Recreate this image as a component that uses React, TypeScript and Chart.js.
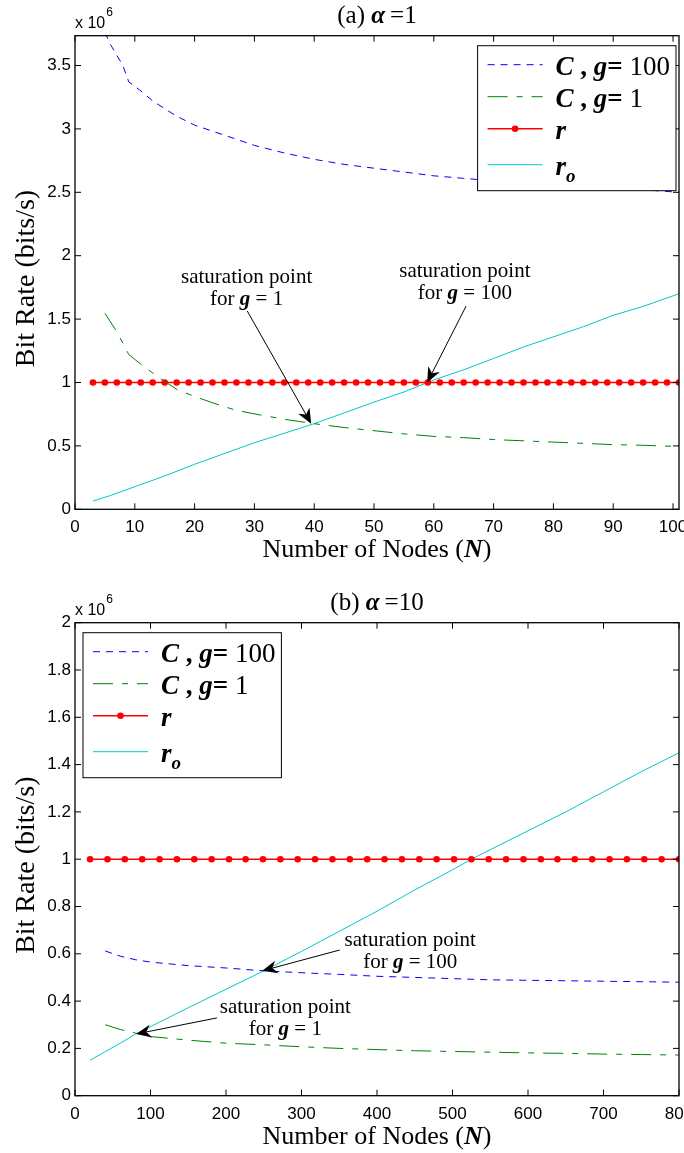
import React, { useEffect, useRef } from 'react';
import { Chart, registerables } from 'chart.js';
Chart.register(...registerables);

// ---------------- Panel (a): alpha = 1 (values in units of 10^6 bits/s) ----------------
const A_C100_N = [5, 6, 8, 9, 11, 13, 15, 17, 20, 25, 30, 35, 40, 45, 50, 55, 60, 65, 70, 75, 80, 85, 90, 95, 101];
const A_C100 = [3.76, 3.66, 3.5, 3.37, 3.3, 3.22, 3.16, 3.1, 3.03, 2.95, 2.87, 2.81, 2.76, 2.72, 2.69, 2.66, 2.63, 2.61, 2.59, 2.575, 2.56, 2.55, 2.535, 2.52, 2.5];
const A_C1_N = [5, 7, 9, 11, 14, 17, 20, 23, 27, 31, 35, 40, 45, 50, 55, 60, 65, 70, 75, 80, 85, 90, 95, 101];
const A_C1 = [1.546, 1.4, 1.22, 1.145, 1.04, 0.946, 0.89, 0.84, 0.78, 0.744, 0.71, 0.675, 0.645, 0.62, 0.595, 0.575, 0.565, 0.55, 0.54, 0.53, 0.52, 0.51, 0.505, 0.495];
const A_R_N = [3, 5, 7, 9, 11, 13, 15, 17, 19, 21, 23, 25, 27, 29, 31, 33, 35, 37, 39, 41, 43, 45, 47, 49, 51, 53, 55, 57, 59, 61, 63, 65, 67, 69, 71, 73, 75, 77, 79, 81, 83, 85, 87, 89, 91, 93, 95, 97, 99, 101];
const A_R = [1, 1, 1, 1, 1, 1, 1, 1, 1, 1, 1, 1, 1, 1, 1, 1, 1, 1, 1, 1, 1, 1, 1, 1, 1, 1, 1, 1, 1, 1, 1, 1, 1, 1, 1, 1, 1, 1, 1, 1, 1, 1, 1, 1, 1, 1, 1, 1, 1, 1];
const A_RO_N = [3, 6, 10, 15, 20, 25, 30, 35, 40, 45, 50, 55, 60, 65, 70, 75, 80, 85, 90, 95, 101];
const A_RO = [0.065, 0.11, 0.178, 0.263, 0.355, 0.44, 0.525, 0.6, 0.675, 0.76, 0.845, 0.925, 1.02, 1.1, 1.19, 1.28, 1.36, 1.44, 1.53, 1.6, 1.7];
const A_X_TICKS = [0, 10, 20, 30, 40, 50, 60, 70, 80, 90, 100];
const A_X_LABELS = ['0', '10', '20', '30', '40', '50', '60', '70', '80', '90', '100'];
const A_Y_TICKS = [0, 0.5, 1, 1.5, 2, 2.5, 3, 3.5];
const A_Y_LABELS = ['0', '0.5', '1', '1.5', '2', '2.5', '3', '3.5'];

// ---------------- Panel (b): alpha = 10 ----------------
const B_C100_N = [40, 60, 80, 100, 150, 200, 250, 300, 350, 400, 450, 500, 550, 600, 650, 700, 750, 800];
const B_C100 = [0.612, 0.59, 0.575, 0.565, 0.55, 0.54, 0.528, 0.52, 0.513, 0.505, 0.5, 0.495, 0.49, 0.488, 0.486, 0.484, 0.482, 0.48];
const B_C1_N = [40, 60, 80, 100, 150, 200, 250, 300, 350, 400, 450, 500, 550, 600, 650, 700, 750, 800];
const B_C1 = [0.3, 0.28, 0.265, 0.25, 0.235, 0.222, 0.215, 0.207, 0.2, 0.195, 0.19, 0.187, 0.184, 0.181, 0.179, 0.176, 0.174, 0.172];
const B_R_N = [20, 43, 66, 89, 112, 135, 158, 181, 204, 226, 249, 272, 295, 318, 341, 364, 387, 410, 433, 456, 479, 502, 525, 548, 571, 594, 617, 639, 662, 685, 708, 731, 754, 777, 800];
const B_R = [1, 1, 1, 1, 1, 1, 1, 1, 1, 1, 1, 1, 1, 1, 1, 1, 1, 1, 1, 1, 1, 1, 1, 1, 1, 1, 1, 1, 1, 1, 1, 1, 1, 1, 1];
const B_RO_N = [20, 40, 60, 80, 100, 150, 200, 250, 300, 350, 400, 450, 500, 525, 550, 600, 650, 700, 750, 800];
const B_RO = [0.15, 0.186, 0.222, 0.26, 0.292, 0.372, 0.45, 0.528, 0.61, 0.695, 0.78, 0.87, 0.955, 1.0, 1.04, 1.12, 1.2, 1.285, 1.37, 1.45];
const B_X_TICKS = [0, 100, 200, 300, 400, 500, 600, 700, 800];
const B_X_LABELS = ['0', '100', '200', '300', '400', '500', '600', '700', '800'];
const B_Y_TICKS = [0, 0.2, 0.4, 0.6, 0.8, 1, 1.2, 1.4, 1.6, 1.8, 2];
const B_Y_LABELS = ['0', '0.2', '0.4', '0.6', '0.8', '1', '1.2', '1.4', '1.6', '1.8', '2'];

// ---------------- styling ----------------
const SERIF = "'Liberation Serif', 'Times New Roman', serif";
const SANS = "'Liberation Sans', Arial, Helvetica, sans-serif";
const BLUE = '#0000ff';
const GREEN = '#008000';
const RED = '#ff0000';
const CYAN = '#00c8c8';

type Seg = { t: string; s?: 'r' | 'b' | 'bi' | 'i'; size?: number; dy?: number };

function segFont(seg: Seg, size: number) {
  const st = seg.s === 'bi' ? 'italic bold ' : seg.s === 'b' ? 'bold ' : seg.s === 'i' ? 'italic ' : '';
  return `${st}${seg.size ?? size}px ${SERIF}`;
}
function richWidth(ctx: CanvasRenderingContext2D, segs: Seg[], size: number) {
  let w = 0;
  for (const s of segs) {
    ctx.font = segFont(s, size);
    w += ctx.measureText(s.t).width;
  }
  return w;
}
function drawRich(ctx: CanvasRenderingContext2D, segs: Seg[], x: number, y: number, size: number, align: 'left' | 'center') {
  let cx = align === 'center' ? x - richWidth(ctx, segs, size) / 2 : x;
  ctx.textAlign = 'left';
  ctx.textBaseline = 'alphabetic';
  for (const s of segs) {
    ctx.font = segFont(s, size);
    ctx.fillText(s.t, cx, y + (s.dy ?? 0));
    cx += ctx.measureText(s.t).width;
  }
}

function drawArrow(ctx: CanvasRenderingContext2D, x1: number, y1: number, x2: number, y2: number) {
  const ang = Math.atan2(y2 - y1, x2 - x1);
  const ux = Math.cos(ang), uy = Math.sin(ang);
  const nx = -uy, ny = ux;
  const L = 15, W = 6.5, notch = 4.5;
  ctx.beginPath();
  ctx.moveTo(x1, y1);
  ctx.lineTo(x2 - ux * (L - notch), y2 - uy * (L - notch));
  ctx.lineWidth = 1;
  ctx.strokeStyle = '#000';
  ctx.stroke();
  ctx.beginPath();
  ctx.moveTo(x2, y2);
  ctx.lineTo(x2 - ux * L + nx * W, y2 - uy * L + ny * W);
  ctx.lineTo(x2 - ux * (L - notch), y2 - uy * (L - notch));
  ctx.lineTo(x2 - ux * L - nx * W, y2 - uy * L - ny * W);
  ctx.closePath();
  ctx.fillStyle = '#000';
  ctx.fill();
}

const legendSegs = (g: string): Seg[] => [
  { t: 'C', s: 'bi' },
  { t: ' , ', s: 'b' },
  { t: 'g', s: 'bi' },
  { t: '= ', s: 'b' },
  { t: g },
];
const LEGEND_TEXT: Seg[][] = [
  legendSegs('100'),
  legendSegs('1'),
  [{ t: 'r', s: 'bi' }],
  [{ t: 'r', s: 'bi' }, { t: 'o', s: 'bi', size: 19, dy: 7 }],
];

type Ann = { g: string; textN: number; textV: number; tail: [number, number]; tip: [number, number] };

const PANEL_A = {
  letter: 'a', alpha: '1', top: 0, height: 587, plotTop: 35.7, plotBottom: 509.3,
  xMax: 101, yMax: 3.735,
  xTicks: A_X_TICKS, xLabels: A_X_LABELS, yTicks: A_Y_TICKS, yLabels: A_Y_LABELS,
  series: [
    { n: A_C100_N, v: A_C100 },
    { n: A_C1_N, v: A_C1 },
    { n: A_R_N, v: A_R },
    { n: A_RO_N, v: A_RO },
  ],
  legendSide: 'right',
  anns: [
    { g: '1', textN: 28.7, textV: 1.782, tail: [28.8, 1.564], tip: [39.5, 0.675] },
    { g: '100', textN: 65.2, textV: 1.83, tail: [65.4, 1.603], tip: [58.9, 1.0] },
  ] as Ann[],
};

const PANEL_B = {
  letter: 'b', alpha: '10', top: 587, height: 566, plotTop: 35.7, plotBottom: 508.7,
  xMax: 800, yMax: 2,
  xTicks: B_X_TICKS, xLabels: B_X_LABELS, yTicks: B_Y_TICKS, yLabels: B_Y_LABELS,
  series: [
    { n: B_C100_N, v: B_C100 },
    { n: B_C1_N, v: B_C1 },
    { n: B_R_N, v: B_R },
    { n: B_RO_N, v: B_RO },
  ],
  legendSide: 'left',
  anns: [
    { g: '100', textN: 444, textV: 0.633, tail: [350.6, 0.616], tip: [248, 0.528] },
    { g: '1', textN: 278.6, textV: 0.348, tail: [188, 0.329], tip: [81, 0.261] },
  ] as Ann[],
};

type Panel = typeof PANEL_A;

function buildConfig(p: Panel): any {
  const pts = (n: number[], v: number[]) => n.map((x, i) => ({ x, y: v[i] }));
  const datasets = [
    { label: 'C, g=100', data: pts(p.series[0].n, p.series[0].v), borderColor: BLUE, borderWidth: 1, borderDash: [7, 6], pointRadius: 0, tension: 0, fill: false },
    { label: 'C, g=1', data: pts(p.series[1].n, p.series[1].v), borderColor: GREEN, borderWidth: 1, borderDash: [20, 9, 6, 9], pointRadius: 0, tension: 0, fill: false },
    { label: 'r', data: pts(p.series[2].n, p.series[2].v), borderColor: RED, backgroundColor: RED, borderWidth: 1.5, pointRadius: 3.3, pointBorderWidth: 0, pointBackgroundColor: RED, tension: 0, fill: false },
    { label: 'r_o', data: pts(p.series[3].n, p.series[3].v), borderColor: CYAN, borderWidth: 1, pointRadius: 0, tension: 0, fill: false },
  ];

  const decor = {
    id: 'decor',
    afterDraw(chart: any) {
      const ctx: CanvasRenderingContext2D = chart.ctx;
      const a = chart.chartArea;
      const xs = chart.scales.x;
      const ys = chart.scales.y;
      ctx.save();

      // box
      ctx.strokeStyle = '#000';
      ctx.lineWidth = 1.3;
      ctx.setLineDash([]);
      ctx.strokeRect(a.left, a.top, a.right - a.left, a.bottom - a.top);

      // inward ticks on all sides
      const TL = 6;
      ctx.lineWidth = 1;
      ctx.beginPath();
      p.xTicks.forEach((v) => {
        const x = xs.getPixelForValue(v);
        ctx.moveTo(x, a.bottom); ctx.lineTo(x, a.bottom - TL);
        ctx.moveTo(x, a.top); ctx.lineTo(x, a.top + TL);
      });
      p.yTicks.forEach((v) => {
        const y = ys.getPixelForValue(v);
        ctx.moveTo(a.left, y); ctx.lineTo(a.left + TL, y);
        ctx.moveTo(a.right, y); ctx.lineTo(a.right - TL, y);
      });
      ctx.stroke();

      // annotations
      ctx.fillStyle = '#000';
      p.anns.forEach((an) => {
        const tx = xs.getPixelForValue(an.textN);
        const ty = ys.getPixelForValue(an.textV);
        drawRich(ctx, [{ t: 'saturation point' }], tx, ty, 21, 'center');
        drawRich(ctx, [{ t: 'for ' }, { t: 'g', s: 'bi' }, { t: ' = ' + an.g }], tx, ty + 22, 21, 'center');
        drawArrow(ctx, xs.getPixelForValue(an.tail[0]), ys.getPixelForValue(an.tail[1]),
          xs.getPixelForValue(an.tip[0]), ys.getPixelForValue(an.tip[1]));
      });

      // legend
      const LS = 27;
      let maxW = 0;
      LEGEND_TEXT.forEach((s) => { maxW = Math.max(maxW, richWidth(ctx, s, LS)); });
      const w = 78 + maxW + 6;
      const h = 145;
      const bx = p.legendSide === 'right' ? a.right - 3 - w : a.left + 8;
      const by = a.top + 10;
      ctx.fillStyle = '#fff';
      ctx.fillRect(bx, by, w, h);
      ctx.strokeStyle = '#000';
      ctx.lineWidth = 1;
      ctx.strokeRect(bx, by, w, h);
      const rows = [19, 51, 83, 119];
      datasets.forEach((ds: any, i) => {
        const y = by + rows[i];
        ctx.save();
        ctx.strokeStyle = ds.borderColor;
        ctx.lineWidth = ds.borderWidth;
        ctx.setLineDash(ds.borderDash || []);
        ctx.beginPath();
        ctx.moveTo(bx + 10, y);
        ctx.lineTo(bx + 65, y);
        ctx.stroke();
        if (ds.pointRadius > 0) {
          ctx.fillStyle = ds.pointBackgroundColor;
          ctx.beginPath();
          ctx.arc(bx + 37.5, y, ds.pointRadius, 0, Math.PI * 2);
          ctx.fill();
        }
        ctx.restore();
        ctx.fillStyle = '#000';
        drawRich(ctx, LEGEND_TEXT[i], bx + 78, y + 10, LS, 'left');
      });

      // title
      ctx.fillStyle = '#000';
      const cx = (a.left + a.right) / 2;
      drawRich(ctx, [{ t: `(${p.letter}) ` }, { t: 'α', s: 'bi' }, { t: '\u2009=' + p.alpha }], cx, 23, 25, 'center');

      // x 10^6
      ctx.font = `16px ${SANS}`;
      ctx.textAlign = 'left';
      ctx.textBaseline = 'alphabetic';
      ctx.fillText('x 10', a.left, 28);
      const wx = ctx.measureText('x 10').width;
      ctx.font = `12px ${SANS}`;
      ctx.fillText('6', a.left + wx + 1, 16);

      // x axis title
      drawRich(ctx, [{ t: 'Number of Nodes (' }, { t: 'N', s: 'bi' }, { t: ')' }], cx, a.bottom + 48, 26, 'center');

      // y axis title
      ctx.save();
      ctx.translate(34, (a.top + a.bottom) / 2 + 6);
      ctx.rotate(-Math.PI / 2);
      drawRich(ctx, [{ t: 'Bit Rate (bits/s)' }], 0, 0, 28, 'center');
      ctx.restore();

      ctx.restore();
    },
  };

  return {
    type: 'line',
    data: { datasets },
    plugins: [decor],
    options: {
      animation: false,
      responsive: false,
      events: [],
      layout: { padding: { left: 0, right: 5, top: p.plotTop, bottom: 0 }, autoPadding: false },
      plugins: { legend: { display: false }, title: { display: false }, tooltip: { enabled: false } },
      scales: {
        x: {
          type: 'linear', min: 0, max: p.xMax,
          grid: { display: false, drawTicks: false },
          border: { display: false },
          afterBuildTicks: (s: any) => { s.ticks = p.xTicks.map((v) => ({ value: v })); },
          afterFit: (s: any) => {
            s.height = p.height - p.plotBottom;
            s.paddingLeft = 0; s.paddingRight = 0; s.paddingTop = 0; s.paddingBottom = 0;
          },
          ticks: {
            font: { family: SANS, size: 17 }, color: '#000', padding: 8, maxRotation: 0, autoSkip: false,
            callback: (_v: any, i: number) => p.xLabels[i],
          },
        },
        y: {
          type: 'linear', min: 0, max: p.yMax,
          grid: { display: false, drawTicks: false },
          border: { display: false },
          afterBuildTicks: (s: any) => { s.ticks = p.yTicks.map((v) => ({ value: v })); },
          afterFit: (s: any) => {
            s.width = 75;
            s.paddingLeft = 0; s.paddingRight = 0; s.paddingTop = 0; s.paddingBottom = 0;
          },
          ticks: {
            font: { family: SANS, size: 17 }, color: '#000', padding: 4, autoSkip: false,
            callback: (_v: any, i: number) => p.yLabels[i],
          },
        },
      },
    },
  };
}

function PanelChart({ p }: { p: Panel }) {
  const ref = useRef<HTMLCanvasElement>(null);
  useEffect(() => {
    if (!ref.current) return;
    const chart = new Chart(ref.current, buildConfig(p));
    return () => chart.destroy();
  }, [p]);
  return (
    <div style={{ position: 'absolute', left: 0, top: p.top, width: 684, height: p.height }}>
      <canvas ref={ref} width={684} height={p.height} style={{ display: 'block', width: 684, height: p.height }} />
    </div>
  );
}

export default function App() {
  return (
    <div style={{ position: 'absolute', left: 0, top: 0, width: 684, height: 1153, background: '#fff' }}>
      <PanelChart p={PANEL_A} />
      <PanelChart p={PANEL_B as Panel} />
    </div>
  );
}
